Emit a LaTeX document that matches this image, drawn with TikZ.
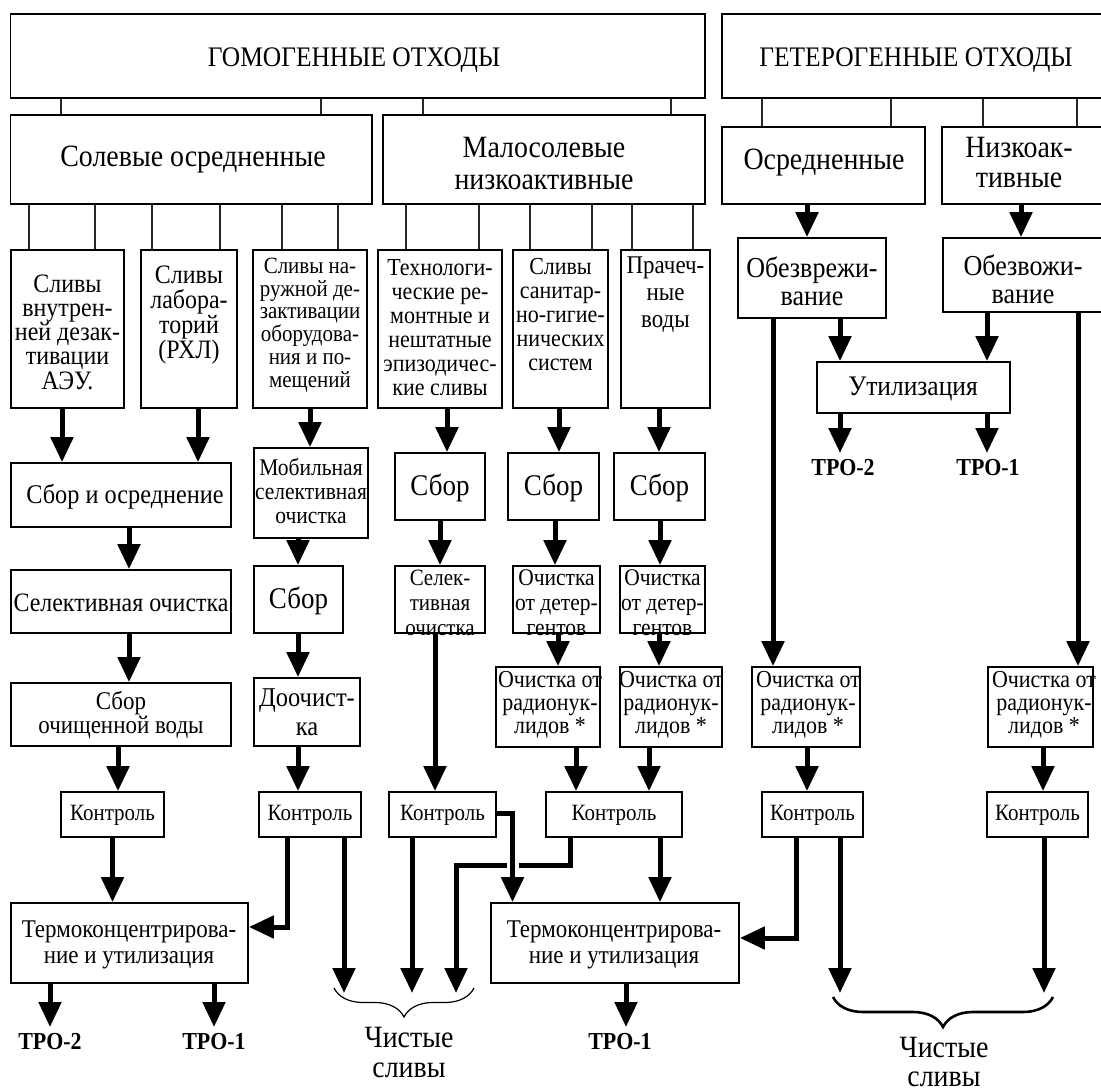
\documentclass[tikz,border=0pt]{standalone}
\usepackage{fontspec}
\setmainfont[FakeStretch=0.9]{Liberation Serif}
\usetikzlibrary{arrows.meta,fit,decorations.pathreplacing}
\newcommand\fsz[2]{\fontsize{#1}{#2}\selectfont}
\newcommand\B[5]{\node[boxst, fit={(#2,#3) (#4,#5)}] (#1) {};}
\begin{document}
\begin{tikzpicture}[x=1pt,y=-1pt,
  boxst/.style={draw, line width=1.7pt, inner sep=0pt},
  stub/.style={line width=1.4pt, draw=black!85},
  arr/.style={line width=5pt, -{Triangle[width=22pt,length=25pt]}},
  txt/.style={align=center, inner sep=0pt},
  brc/.style={decorate, decoration={brace, mirror, amplitude=#1}},
]
\useasboundingbox (0,0) rectangle (1101,1091);
\clip (0,0) rectangle (1101,1091);

% ---------- boxes ----------
\B{hom}{10.5}{14}{705}{98}
\B{het}{722}{14}{1112}{98}
\B{sol}{10.5}{115}{372}{204}
\B{mal}{383}{115}{705}{204}
\B{osr}{722}{127}{925}{204}
\B{nizk}{942}{127}{1112}{204}
\B{s1}{11}{250}{124}{408}
\B{s2}{141}{250}{237}{408}
\B{s3}{253}{250}{367}{408}
\B{s4}{378}{250}{502}{408}
\B{s5}{513}{250}{608}{408}
\B{s6}{621}{250}{710}{408}
\B{obv}{738}{238}{886}{318}
\B{obz}{943}{238}{1112}{312}
\B{util}{817}{362}{1010}{413}
\B{sbavg}{11}{463}{231}{527}
\B{sel}{11}{570}{231}{633}
\B{sborw}{11}{683}{231}{746}
\B{mob}{254}{448}{368}{538}
\B{sb0}{254}{566}{343}{633}
\B{doo}{254}{678}{360}{746}
\B{sb1}{395}{453}{485}{520}
\B{sb2}{508}{453}{599}{520}
\B{sb3}{614}{453}{705}{520}
\B{sel2}{395}{566}{485}{633}
\B{det1}{513}{566}{600}{633}
\B{det2}{620}{566}{705}{633}
\B{rad1}{496}{667}{600}{747}
\B{rad2}{620}{667}{722}{747}
\B{rad3}{752}{667}{860}{747}
\B{rad4}{988}{667}{1093}{747}
\B{k1}{61}{792}{164}{837}
\B{k2}{259}{792}{361}{837}
\B{k3}{389}{792}{496}{837}
\B{k4}{546}{792}{682}{837}
\B{k5}{762}{792}{863}{837}
\B{k6}{987}{792}{1088}{837}
\B{termo1}{11}{903}{248}{983}
\B{termo2}{491}{903}{739}{983}

% ---------- texts ----------
\node[txt, font={\fsz{28.3}{30}}] (homt) at (354,60) {ГОМОГЕННЫЕ ОТХОДЫ};
\node[txt, font={\fsz{28.3}{30}}] (hett) at (916,60) {ГЕТЕРОГЕННЫЕ ОТХОДЫ};
\node[txt, font={\fsz{31}{32}}] (solt) at (193,160) {Солевые осредненные};
\node[txt, font={\fsz{31}{32}}] (malt) at (544,164) {Малосолевые\\низкоактивные};
\node[txt, font={\fsz{31}{32}}] (osrt) at (824,163) {Осредненные};
\node[txt, font={\fsz{31}{30}}] (nizkt) at (1019,163) {Низкоак-\\тивные};
\node[txt, font={\fsz{26.6}{24.2}}] (s1t) at (67.5,332) {Сливы\\внутрен-\\ней дезак-\\тивации\\АЭУ.};
\node[txt, font={\fsz{26.6}{25}}] (s2t) at (189,315) {Сливы\\лабора-\\торий\\(РХЛ)};
\node[txt, font={\fsz{23.3}{22.7}}] (s3t) at (310,325) {Сливы на-\\ружной де-\\зактивации\\оборудова-\\ния и по-\\мещений};
\node[txt, font={\fsz{24.4}{24}}] (s4t) at (440,328) {Технологи-\\ческие ре-\\монтные и\\нештатные\\эпизодичес-\\кие сливы};
\node[txt, font={\fsz{24.4}{24}}] (s5t) at (560.5,315) {Сливы\\санитар-\\но-гигие-\\нических\\систем};
\node[txt, font={\fsz{25.5}{27}}] (s6t) at (665.5,295) {Прачеч-\\ные\\воды};
\node[txt, font={\fsz{28.9}{28}}] (obvt) at (812,281) {Обезврежи-\\вание};
\node[txt, font={\fsz{28.9}{28}}] (obzt) at (1023,279) {Обезвожи-\\вание};
\node[txt, font={\fsz{28.3}{28}}] (utilt) at (913,389) {Утилизация};
\node[txt, font={\fsz{24.4}{24}\bfseries}] (troA) at (843,468) {ТРО-2};
\node[txt, font={\fsz{24.4}{24}\bfseries}] (troB) at (988,468) {ТРО-1};
\node[txt, font={\fsz{27}{26}}] (sbavgt) at (125,497) {Сбор и осреднение};
\node[txt, font={\fsz{26.6}{26}}] (selt) at (121,603) {Селективная очистка};
\node[txt, font={\fsz{25.5}{24}}] (sborwt) at (121,715) {Сбор\\очищенной воды};
\node[txt, font={\fsz{23.9}{24}}] (mobt) at (311,491) {Мобильная\\селективная\\очистка};
\node[txt, font={\fsz{30}{29}}] (sb0t) at (298.5,601) {Сбор};
\node[txt, font={\fsz{27.2}{29}}] (doot) at (307,712) {Доочист-\\ка};
\node[txt, font={\fsz{30}{29}}] (sb1t) at (440,488) {Сбор};
\node[txt, font={\fsz{30}{29}}] (sb2t) at (553.5,488) {Сбор};
\node[txt, font={\fsz{30}{29}}] (sb3t) at (659.5,488) {Сбор};
\node[txt, font={\fsz{23.3}{25}}] (sel2t) at (440,603) {Селек-\\тивная\\очистка};
\node[txt, font={\fsz{23.9}{25}}] (det1t) at (556.5,603) {Очистка\\от детер-\\гентов};
\node[txt, font={\fsz{23.9}{25}}] (det2t) at (662.5,603) {Очистка\\от детер-\\гентов};
\node[txt, font={\fsz{24.4}{23}}] (rad1t) at (550,705) {Очистка от\\радионук-\\лидов *};
\node[txt, font={\fsz{24.4}{23}}] (rad2t) at (671,705) {Очистка от\\радионук-\\лидов *};
\node[txt, font={\fsz{24.4}{23}}] (rad3t) at (808,705) {Очистка от\\радионук-\\лидов *};
\node[txt, font={\fsz{24.4}{23}}] (rad4t) at (1044,705) {Очистка от\\радионук-\\лидов *};
\node[txt, font={\fsz{23.3}{24}}] (k1t) at (112.5,815) {Контроль};
\node[txt, font={\fsz{23.3}{24}}] (k2t) at (310,815) {Контроль};
\node[txt, font={\fsz{23.3}{24}}] (k3t) at (442.5,815) {Контроль};
\node[txt, font={\fsz{23.3}{24}}] (k4t) at (614,815) {Контроль};
\node[txt, font={\fsz{23.3}{24}}] (k5t) at (812.5,815) {Контроль};
\node[txt, font={\fsz{23.3}{24}}] (k6t) at (1037.5,815) {Контроль};
\node[txt, font={\fsz{25.5}{26}}] (termo1t) at (129,945) {Термоконцентрирова-\\ние и утилизация};
\node[txt, font={\fsz{25.5}{26}}] (termo2t) at (614,945) {Термоконцентрирова-\\ние и утилизация};
\node[txt, font={\fsz{24.4}{24}\bfseries}] (troC) at (50,1042) {ТРО-2};
\node[txt, font={\fsz{24.4}{24}\bfseries}] (troD) at (214,1042) {ТРО-1};
\node[txt, font={\fsz{24.4}{24}\bfseries}] (troE) at (620,1042) {ТРО-1};
\node[txt, font={\fsz{31}{30}}] (clean1) at (409,1052) {Чистые\\сливы};
\node[txt, font={\fsz{31}{29}}] (clean2) at (944,1062) {Чистые\\сливы};

% ---------- stubs ----------
\foreach \x in {61,321} \draw[stub] (\x,0 |- hom.south) -- (\x,0 |- sol.north);
\foreach \x in {423,671} \draw[stub] (\x,0 |- hom.south) -- (\x,0 |- mal.north);
\foreach \x in {762,891} \draw[stub] (\x,0 |- het.south) -- (\x,0 |- osr.north);
\foreach \x in {983,1077} \draw[stub] (\x,0 |- het.south) -- (\x,0 |- nizk.north);
\foreach \x in {29,95} \draw[stub] (\x,0 |- sol.south) -- (\x,0 |- s1.north);
\foreach \x in {152,220} \draw[stub] (\x,0 |- sol.south) -- (\x,0 |- s2.north);
\foreach \x in {282,338} \draw[stub] (\x,0 |- sol.south) -- (\x,0 |- s3.north);
\foreach \x in {406,479} \draw[stub] (\x,0 |- mal.south) -- (\x,0 |- s4.north);
\foreach \x in {530,592} \draw[stub] (\x,0 |- mal.south) -- (\x,0 |- s5.north);
\foreach \x in {632,693} \draw[stub] (\x,0 |- mal.south) -- (\x,0 |- s6.north);

% ---------- free ends ----------
\coordinate (e1) at (344,993);
\coordinate (e2) at (412,993);
\coordinate (e3) at (456,993);
\coordinate (e4) at (840,993);
\coordinate (e5) at (1044,993);
\coordinate (t1) at (50,1027);
\coordinate (t2) at (214,1027);
\coordinate (t3) at (626,1027);
\coordinate (t4) at (840,453);
\coordinate (t5) at (987,453);

% ---------- arrows: homogeneous ----------
\draw[arr] (62,0 |- s1.south) -- (62,0 |- sbavg.north);
\draw[arr] (198,0 |- s2.south) -- (198,0 |- sbavg.north);
\draw[arr] (129,0 |- sbavg.south) -- (129,0 |- sel.north);
\draw[arr] (129,0 |- sel.south) -- (129,0 |- sborw.north);
\draw[arr] (118,0 |- sborw.south) -- (118,0 |- k1.north);
\draw[arr] (112.5,0 |- k1.south) -- (112.5,0 |- termo1.north);
\draw[arr] (50,0 |- termo1.south) -- (t1);
\draw[arr] (214,0 |- termo1.south) -- (t2);

\draw[arr] (310,0 |- s3.south) -- (310,0 |- mob.north);
\draw[arr] (298,0 |- mob.south) -- (298,0 |- sb0.north);
\draw[arr] (298,0 |- sb0.south) -- (298,0 |- doo.north);
\draw[arr] (298,0 |- doo.south) -- (298,0 |- k2.north);
\draw[arr] (287,0 |- k2.south) |- (termo1.east |- 0,927);
\draw[arr] (344,0 |- k2.south) -- (e1);

\draw[arr] (447,0 |- s4.south) -- (447,0 |- sb1.north);
\draw[arr] (440,0 |- sb1.south) -- (440,0 |- sel2.north);
\draw[arr] (435,0 |- sel2.south) -- (435,0 |- k3.north);
\draw[arr] (412,0 |- k3.south) -- (e2);

\draw[arr] (559,0 |- s5.south) -- (559,0 |- sb2.north);
\draw[arr] (659,0 |- s6.south) -- (659,0 |- sb3.north);
\draw[arr] (555,0 |- sb2.south) -- (555,0 |- det1.north);
\draw[arr] (660,0 |- sb3.south) -- (660,0 |- det2.north);
\draw[arr] (558,0 |- det1.south) -- (558,0 |- rad1.north);
\draw[arr] (659,0 |- det2.south) -- (659,0 |- rad2.north);
\draw[arr] (576,0 |- rad1.south) -- (576,0 |- k4.north);
\draw[arr] (649,0 |- rad2.south) -- (649,0 |- k4.north);
\draw[arr] (570,0 |- k4.south) |- (456,865) -- (e3);
\draw[line width=12pt, white] (512.5,857) -- (512.5,873);
\draw[arr] (k3.east |- 0,813) -| (512.5,0 |- termo2.north);
\draw[arr] (660,0 |- k4.south) -- (660,0 |- termo2.north);
\draw[arr] (626,0 |- termo2.south) -- (t3);

% ---------- arrows: heterogeneous ----------
\draw[arr] (807,0 |- osr.south) -- (807,0 |- obv.north);
\draw[arr] (1021,0 |- nizk.south) -- (1021,0 |- obz.north);
\draw[arr] (840,0 |- obv.south) -- (840,0 |- util.north);
\draw[arr] (987,0 |- obz.south) -- (987,0 |- util.north);
\draw[arr] (840,0 |- util.south) -- (t4);
\draw[arr] (987,0 |- util.south) -- (t5);
\draw[arr] (773,0 |- obv.south) -- (773,0 |- rad3.north);
\draw[arr] (1078,0 |- obz.south) -- (1078,0 |- rad4.north);
\draw[arr] (807,0 |- rad3.south) -- (807,0 |- k5.north);
\draw[arr] (1043,0 |- rad4.south) -- (1043,0 |- k6.north);
\draw[arr] (796,0 |- k5.south) |- (termo2.east |- 0,938);
\draw[arr] (840,0 |- k5.south) -- (e4);
\draw[arr] (1044,0 |- k6.south) -- (e5);

% ---------- braces ----------
\draw[brc=29pt, line width=1.2pt] (334,988) -- (474,988);
\draw[brc=30pt, line width=2.6pt] (833,997) -- (1053,997);
\end{tikzpicture}
\end{document}
